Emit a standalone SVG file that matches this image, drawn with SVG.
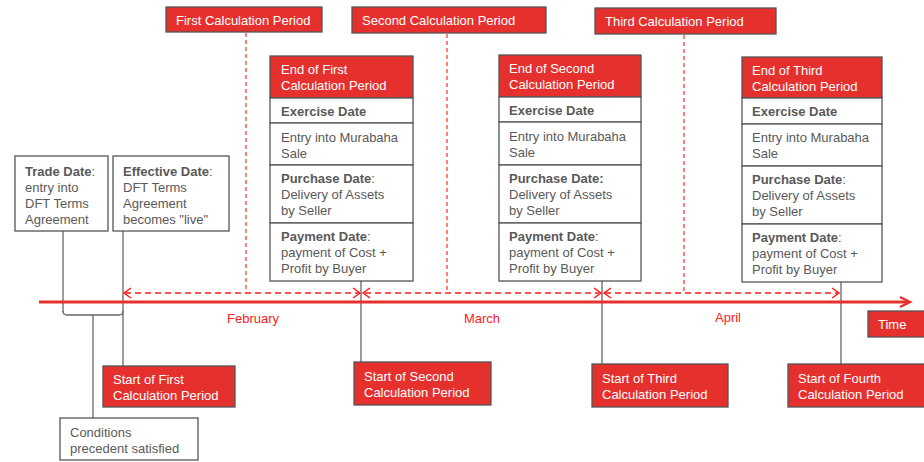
<svg xmlns="http://www.w3.org/2000/svg" width="924" height="462" viewBox="0 0 924 462">
<defs>
<style>
text{font-family:"Liberation Sans",Arial,sans-serif;font-size:13px;}
.w{fill:#ffffff;}
.g{fill:#595959;}
.b{font-weight:bold;}
.red{fill:#e5302e;stroke:#555;stroke-width:1.3;}
.box{fill:#ffffff;stroke:#555;stroke-width:1.3;}
.m{fill:#ff2020;}
.vl{stroke:#666;stroke-width:1.3;fill:none;}
.dv{stroke:#ff3a3a;stroke-width:1.3;stroke-dasharray:4 3;fill:none;}
.dh{stroke:#ff1a1a;stroke-width:1.3;stroke-dasharray:6 4;fill:none;}
.ch{stroke:#ff1a1a;stroke-width:1.5;fill:none;}
</style>
</defs>
<rect width="924" height="462" fill="#ffffff"/>

<g id="connectors">
<line class="dv" x1="246" y1="33" x2="246" y2="293"/>
<line class="dv" x1="447" y1="34" x2="447" y2="293"/>
<line class="dv" x1="684" y1="35" x2="684" y2="293"/>
<line class="dh" x1="125" y1="293" x2="359" y2="293"/>
<line class="dh" x1="365" y1="293" x2="599" y2="293"/>
<line class="dh" x1="605" y1="293" x2="838" y2="293"/>
<path class="ch" d="M131,288 L124,293 L131,298"/>
<path class="ch" d="M353,288 L360,293 L353,298"/>
<path class="ch" d="M370,288 L363,293 L370,298"/>
<path class="ch" d="M594,288 L601,293 L594,298"/>
<path class="ch" d="M611,288 L604,293 L611,298"/>
<path class="ch" d="M832,288 L839,293 L832,298"/>
<line class="vl" x1="361" y1="281" x2="361" y2="362"/>
<line class="vl" x1="602" y1="281" x2="602" y2="364"/>
<line class="vl" x1="841" y1="282" x2="841" y2="364"/>
<line class="vl" x1="123" y1="231" x2="123" y2="366"/>
<line class="vl" x1="63" y1="231" x2="63" y2="312"/>
<path class="vl" d="M63,311 Q63,315 67,315 L119,315 Q123,315 123,311"/>
<line class="vl" x1="93" y1="315" x2="93" y2="418"/>
<line x1="39" y1="302" x2="909" y2="302" stroke="#e5302e" stroke-width="3"/>
<path d="M900,297 L910,302 L900,307" stroke="#e5302e" stroke-width="2.5" fill="none"/>
</g>

<g id="label-first-period">
<rect class="red" x="166" y="7" width="156" height="25"/>
<text class="w" x="176" y="25">First Calculation Period</text>
</g>
<g id="label-second-period">
<rect class="red" x="352" y="7" width="194" height="26"/>
<text class="w" x="362" y="25">Second Calculation Period</text>
</g>
<g id="label-third-period">
<rect class="red" x="595" y="8" width="181" height="26"/>
<text class="w" x="605" y="26">Third Calculation Period</text>
</g>

<g id="end-first">
<rect class="red" x="270" y="56" width="143" height="42"/>
<text class="w" x="281" y="74">End of First</text>
<text class="w" x="281" y="90">Calculation Period</text>
<rect class="box" x="270" y="98" width="143" height="25"/>
<text class="g b" x="281" y="116">Exercise Date</text>
<rect class="box" x="270" y="123" width="143" height="42"/>
<text class="g" x="281" y="142">Entry into Murabaha</text>
<text class="g" x="281" y="158">Sale</text>
<rect class="box" x="270" y="165" width="143" height="58"/>
<text class="g" x="281" y="183"><tspan class="b">Purchase Date</tspan>:</text>
<text class="g" x="281" y="199">Delivery of Assets</text>
<text class="g" x="281" y="215">by Seller</text>
<rect class="box" x="270" y="223" width="143" height="58"/>
<text class="g" x="281" y="241"><tspan class="b">Payment Date</tspan>:</text>
<text class="g" x="281" y="257">payment of Cost +</text>
<text class="g" x="281" y="273">Profit by Buyer</text>
</g>

<g id="end-second">
<rect class="red" x="499" y="55" width="142" height="42"/>
<text class="w" x="509" y="73">End of Second</text>
<text class="w" x="509" y="89">Calculation Period</text>
<rect class="box" x="499" y="97" width="142" height="25"/>
<text class="g b" x="509" y="115">Exercise Date</text>
<rect class="box" x="499" y="122" width="142" height="43"/>
<text class="g" x="509" y="141">Entry into Murabaha</text>
<text class="g" x="509" y="157">Sale</text>
<rect class="box" x="499" y="165" width="142" height="58"/>
<text class="g" x="509" y="183"><tspan class="b">Purchase Date:</tspan></text>
<text class="g" x="509" y="199">Delivery of Assets</text>
<text class="g" x="509" y="215">by Seller</text>
<rect class="box" x="499" y="223" width="142" height="58"/>
<text class="g" x="509" y="241"><tspan class="b">Payment Date</tspan>:</text>
<text class="g" x="509" y="257">payment of Cost +</text>
<text class="g" x="509" y="273">Profit by Buyer</text>
</g>

<g id="end-third">
<rect class="red" x="742" y="57" width="140" height="41"/>
<text class="w" x="752" y="75">End of Third</text>
<text class="w" x="752" y="91">Calculation Period</text>
<rect class="box" x="742" y="98" width="140" height="26"/>
<text class="g b" x="752" y="116">Exercise Date</text>
<rect class="box" x="742" y="124" width="140" height="42"/>
<text class="g" x="752" y="142">Entry into Murabaha</text>
<text class="g" x="752" y="158">Sale</text>
<rect class="box" x="742" y="166" width="140" height="58"/>
<text class="g" x="752" y="184"><tspan class="b">Purchase Date</tspan>:</text>
<text class="g" x="752" y="200">Delivery of Assets</text>
<text class="g" x="752" y="216">by Seller</text>
<rect class="box" x="742" y="224" width="140" height="58"/>
<text class="g" x="752" y="242"><tspan class="b">Payment Date</tspan>:</text>
<text class="g" x="752" y="258">payment of Cost +</text>
<text class="g" x="752" y="274">Profit by Buyer</text>
</g>

<g id="trade-date">
<rect class="box" x="15" y="156" width="93" height="75"/>
<text class="g" x="25" y="176"><tspan class="b">Trade Date</tspan>:</text>
<text class="g" x="25" y="192">entry into</text>
<text class="g" x="25" y="208">DFT Terms</text>
<text class="g" x="25" y="224">Agreement</text>
</g>
<g id="effective-date">
<rect class="box" x="113" y="156" width="116" height="75"/>
<text class="g" x="123" y="176"><tspan class="b">Effective Date</tspan>:</text>
<text class="g" x="123" y="192">DFT Terms</text>
<text class="g" x="123" y="208">Agreement</text>
<text class="g" x="123" y="224">becomes "live"</text>
</g>

<g id="month-labels">
<text class="m" x="253" y="323" text-anchor="middle">February</text>
<text class="m" x="482" y="323" text-anchor="middle">March</text>
<text class="m" x="728" y="322" text-anchor="middle">April</text>
</g>

<g id="time">
<rect class="red" x="868" y="311" width="58" height="26"/>
<text class="w" x="878" y="329">Time</text>
</g>

<g id="start-first">
<rect class="red" x="103" y="366" width="132" height="41"/>
<text class="w" x="113" y="384">Start of First</text>
<text class="w" x="113" y="400">Calculation Period</text>
</g>
<g id="start-second">
<rect class="red" x="354" y="362" width="137" height="43"/>
<text class="w" x="364" y="381">Start of Second</text>
<text class="w" x="364" y="397">Calculation Period</text>
</g>
<g id="start-third">
<rect class="red" x="592" y="364" width="136" height="43"/>
<text class="w" x="602" y="383">Start of Third</text>
<text class="w" x="602" y="399">Calculation Period</text>
</g>
<g id="start-fourth">
<rect class="red" x="788" y="364" width="138" height="43"/>
<text class="w" x="798" y="383">Start of Fourth</text>
<text class="w" x="798" y="399">Calculation Period</text>
</g>

<g id="conditions">
<rect class="box" x="60" y="418" width="138" height="42"/>
<text class="g" x="70" y="437">Conditions</text>
<text class="g" x="70" y="453">precedent satisfied</text>
</g>
</svg>
